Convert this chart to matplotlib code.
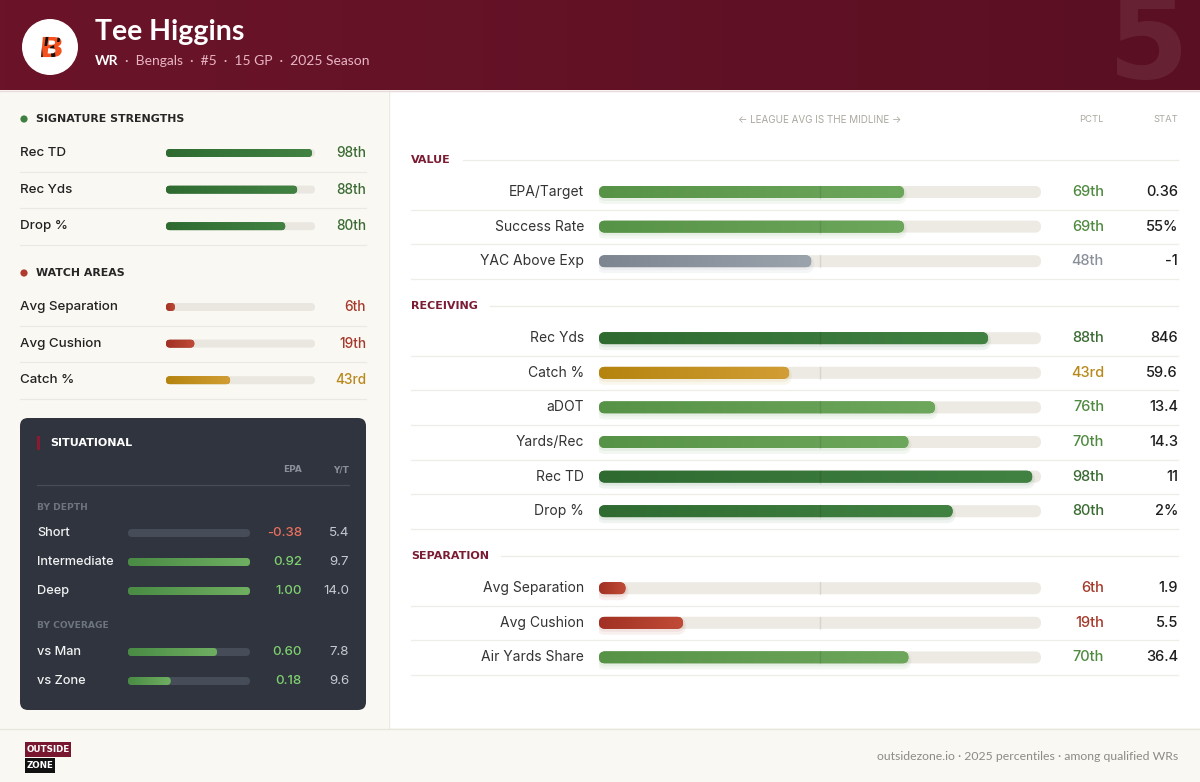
import numpy as np
import matplotlib
matplotlib.use("Agg")
import matplotlib.pyplot as plt
from matplotlib.patches import FancyBboxPatch, Circle, Rectangle, PathPatch, Polygon
from matplotlib.colors import LinearSegmentedColormap
from matplotlib.textpath import TextPath
from matplotlib.font_manager import FontProperties
from matplotlib.transforms import Affine2D

# ---------------- data ----------------
player_name = "Tee Higgins"
player_pos = "WR"
player_meta = ["Bengals", "#5", "15 GP", "2025 Season"]
jersey = "5"

strength_labels = ["Rec TD", "Rec Yds", "Drop %"]
strength_pctl = [98, 88, 80]
watch_labels = ["Avg Separation", "Avg Cushion", "Catch %"]
watch_pctl = [6, 19, 43]

depth_labels = ["Short", "Intermediate", "Deep"]
depth_epa = [-0.38, 0.92, 1.00]
depth_yt = [5.4, 9.7, 14.0]
depth_fill = [0.0, 1.0, 1.0]
coverage_labels = ["vs Man", "vs Zone"]
coverage_epa = [0.60, 0.18]
coverage_yt = [7.8, 9.6]
coverage_fill = [0.73, 0.35]

value_labels = ["EPA/Target", "Success Rate", "YAC Above Exp"]
value_pctl = [69, 69, 48]
value_stat = ["0.36", "55%", "-1"]
receiving_labels = ["Rec Yds", "Catch %", "aDOT", "Yards/Rec", "Rec TD", "Drop %"]
receiving_pctl = [88, 43, 76, 70, 98, 80]
receiving_stat = ["846", "59.6", "13.4", "14.3", "11", "2%"]
separation_labels = ["Avg Separation", "Avg Cushion", "Air Yards Share"]
separation_pctl = [6, 19, 70]
separation_stat = ["1.9", "5.5", "36.4"]

footer_text = "outsidezone.io \u00b7 2025 percentiles \u00b7 among qualified WRs"

# ---------------- style ----------------
W, H, DPI = 1200, 782, 100
LBL = ["Inter", "DejaVu Sans"]
HDR = ["DejaVu Sans"]
TITLE = ["Lato", "DejaVu Sans"]

BAR_GRAD = {
    "elite": ("#2F6B31", "#418242"),
    "good": ("#579346", "#6DA75C"),
    "avg": ("#7C8590", "#9BA3AD"),
    "below": ("#B4840E", "#D29E35"),
    "poor": ("#A13123", "#C04B37"),
}
TXT = {"elite": "#3A6B32", "good": "#4F8A40", "avg": "#8A9099",
       "below": "#B8891C", "poor": "#A5392B"}


def tier(p):
    if p >= 80:
        return "elite"
    if p >= 60:
        return "good"
    if p >= 45:
        return "avg"
    if p >= 25:
        return "below"
    return "poor"


def ordinal(n):
    if 10 <= n % 100 <= 20:
        suf = "th"
    else:
        suf = {1: "st", 2: "nd", 3: "rd"}.get(n % 10, "th")
    return f"{n}{suf}"


fig = plt.figure(figsize=(W / DPI, H / DPI), dpi=DPI, facecolor="#FAF8F3")
bg = fig.add_axes([0, 0, 1, 1])
bg.set_xlim(0, W)
bg.set_ylim(H, 0)
bg.axis("off")


def region_axes(x0, y0, w, h, xmax=100.0):
    ax = fig.add_axes([x0 / W, 1 - (y0 + h) / H, w / W, h / H])
    ax.set_xlim(0, xmax)
    ax.set_ylim(y0 + h, y0)
    ax.axis("off")
    ax.set_zorder(5)
    return ax


def rbar(ax, x0, x1, yc, h, ppx, c0, c1=None, z=3, alpha=1.0, grow=0.0):
    w = x1 - x0
    if w <= 0:
        return None
    hh = h + 2 * grow
    gx = grow / ppx
    r = hh / 2 / ppx
    w = max(w + 2 * gx, 2 * r)
    patch = FancyBboxPatch((x0 - gx, yc - hh / 2), w, hh,
                           boxstyle=f"round,pad=0,rounding_size={r}",
                           mutation_aspect=ppx, fc=c0, ec="none",
                           zorder=z, alpha=alpha)
    ax.add_patch(patch)
    if c1 is not None:
        cmap = LinearSegmentedColormap.from_list("g", [c0, c1])
        im = ax.imshow(np.linspace(0, 1, 128).reshape(1, -1), cmap=cmap,
                       extent=[x0 - gx, x0 - gx + w, yc + hh / 2, yc - hh / 2],
                       aspect="auto", zorder=z + 0.1, interpolation="bilinear")
        im.set_clip_path(patch)
    return patch


# ---------------- backgrounds ----------------
hdr_cmap = LinearSegmentedColormap.from_list("hdr", ["#6B1429", "#5A0F22"])
bg.imshow(np.linspace(0, 1, 256).reshape(1, -1), cmap=hdr_cmap,
          extent=[0, W, 90, 0], aspect="auto", zorder=0)
bg.text(1149, 45, jersey, fontsize=84, color="white", alpha=0.08,
        ha="center", va="center", family=HDR, weight="bold", zorder=1)
bg.plot([0, W], [90.5, 90.5], color="#EADADD", lw=1, zorder=2)
bg.add_patch(Rectangle((0, 91), 388, 637, fc="#FAF8F3", ec="none", zorder=0))
bg.add_patch(Rectangle((388, 91), 812, 637, fc="#FFFFFF", ec="none", zorder=0))
bg.plot([388.5, 388.5], [91, 728], color="#ECE9E1", lw=1, zorder=1)
bg.add_patch(Rectangle((0, 728), W, 54, fc="#F9F8F3", ec="none", zorder=0))
bg.plot([0, W], [728.5, 728.5], color="#E9E6DE", lw=1, zorder=1)
bg.set_xlim(0, W)
bg.set_ylim(H, 0)

# ---------------- header ----------------
bg.add_patch(Circle((50, 47), 28, fc="white", ec="none", zorder=3))
fp = FontProperties(family="DejaVu Sans", weight="bold")
tp = TextPath((0, 0), "B", size=29, prop=fp)
ext = tp.get_extents()
tr = (Affine2D().translate(-ext.x0 - ext.width / 2, -ext.y0 - ext.height / 2)
      .skew_deg(4, 0).scale(1.15, -0.95).translate(52, 47) + bg.transData)
bpatch = PathPatch(tp, fc="#F4511E", ec="none", transform=tr, zorder=4)
bg.add_patch(bpatch)
for pts in ([(33, 34), (41, 34), (43, 61), (35, 61)],
            [(46, 34), (49, 34), (47, 46), (44.5, 46)],
            [(50, 47), (54, 45), (56, 61), (52, 61)],
            [(58, 34), (61, 34), (59.5, 42), (57, 42)]):
    st = Polygon(pts, closed=True, fc="#111111", ec="none", zorder=5)
    bg.add_patch(st)
    st.set_clip_path(bpatch)

bg.text(95, 32, player_name, fontsize=20.5, weight="bold", color="white",
        va="center", ha="left", family=TITLE, zorder=3)
t = bg.text(95, 61, player_pos, fontsize=10, weight="bold", color="white",
            va="center", ha="left", family=TITLE, zorder=3)
bg.annotate("  \u00b7  ".join([""] + player_meta), xy=(1, 0.5), xycoords=t,
            xytext=(0, 0), textcoords="offset points", va="center", ha="left",
            fontsize=10, color="#E8B5C2", family=TITLE, zorder=3)

# ---------------- left panel ----------------
LX0, LX1 = 20, 366
left_ax = region_axes(166, 100, 149, 300)
lppx = 149 / 100.0


def left_section(title, dot, y_head, labels, pctls):
    bg.add_patch(Circle((24, y_head), 3.6, fc=dot, ec="none", zorder=3))
    bg.text(36, y_head, title, fontsize=7.9, weight="bold", color="#262626",
            va="center", ha="left", family=HDR, zorder=3)
    for i, (lab, p) in enumerate(zip(labels, pctls)):
        y = y_head + 34 + i * 36.6
        bg.text(LX0, y, lab, fontsize=9.6, color="#222222", va="center",
                ha="left", family=LBL, weight="medium", zorder=3)
        tr_ = tier(p)
        rbar(left_ax, 0, 100, y, 8, lppx, "#E9E7E0", z=2)
        c0, c1 = BAR_GRAD[tr_]
        rbar(left_ax, 0, p, y, 8, lppx, c0, c1, z=3)
        bg.text(LX1, y, ordinal(p), fontsize=9.8, color=TXT[tr_], va="center",
                ha="right", family=LBL, weight="medium", zorder=3)
        bg.plot([LX0, LX1], [y + 18.5, y + 18.5], color="#ECE9E2", lw=0.9, zorder=2)


left_section("SIGNATURE STRENGTHS", "#3F7F3F", 119, strength_labels, strength_pctl)
left_section("WATCH AREAS", "#B03A2E", 273, watch_labels, watch_pctl)
left_ax.set_xlim(0, 100)
left_ax.set_ylim(400, 100)

# ---------------- situational panel ----------------
bg.add_patch(FancyBboxPatch((20, 418), 346, 292,
                            boxstyle="round,pad=0,rounding_size=8",
                            fc="#2F343E", ec="none", zorder=2))
bg.add_patch(Rectangle((37, 436), 3, 14, fc="#8B1A30", ec="none", zorder=3))
bg.text(50, 443, "SITUATIONAL", fontsize=8.0, weight="bold", color="white",
        va="center", ha="left", family=HDR, zorder=3)
bg.text(302, 470, "EPA", fontsize=6.4, weight="bold", color="#8A909B",
        va="center", ha="right", family=HDR, zorder=3)
bg.text(349, 470, "Y/T", fontsize=6.4, weight="bold", color="#8A909B",
        va="center", ha="right", family=HDR, zorder=3)
bg.plot([37, 349], [485, 485], color="#474D58", lw=0.9, zorder=3)

sit_ax = region_axes(128, 515, 122, 185, xmax=1.0)
sppx = 122 / 1.0


def sit_group(title, y_head, labels, epas, yts, fills):
    bg.text(37, y_head, title, fontsize=6.6, weight="bold", color="#6E7480",
            va="center", ha="left", family=HDR, zorder=3)
    for i, (lab, e, yt, f) in enumerate(zip(labels, epas, yts, fills)):
        y = y_head + 26 + i * 29
        bg.text(37, y, lab, fontsize=9.2, color="#F2F2F2", va="center",
                ha="left", family=LBL, weight="medium", zorder=3)
        rbar(sit_ax, 0, 1.0, y, 8, sppx, "#464C58", z=2)
        rbar(sit_ax, 0, f, y, 8, sppx, "#4A8B45", "#6FAF62", z=3)
        bg.text(302, y, f"{e:.2f}", fontsize=9.6,
                color="#E8705E" if e < 0 else "#7FD06E", va="center",
                ha="right", family=LBL, weight="medium", zorder=3)
        bg.text(349, y, f"{yt:.1f}", fontsize=9.6, color="#C5C9D0",
                va="center", ha="right", family=LBL, zorder=3)


sit_group("BY DEPTH", 507, depth_labels, depth_epa, depth_yt, depth_fill)
sit_group("BY COVERAGE", 626, coverage_labels, coverage_epa, coverage_yt, coverage_fill)
sit_ax.set_xlim(0, 1.0)
sit_ax.set_ylim(700, 515)

# ---------------- right panel ----------------
RX0, RX1 = 411, 1178
bg.text(820, 120, "\u2190 LEAGUE AVG IS THE MIDLINE \u2192", fontsize=7.1,
        color="#ABA89F", va="center", ha="center", family=LBL, zorder=3)
bg.text(1104, 120, "PCTL", fontsize=6.8, color="#ABA89F", va="center",
        ha="right", family=LBL, zorder=3)
bg.text(RX1, 120, "STAT", fontsize=6.8, color="#ABA89F", va="center",
        ha="right", family=LBL, zorder=3)

right_ax = region_axes(599, 170, 442, 510)
rppx = 442 / 100.0
renderer = fig.canvas.get_renderer()

sections = [("VALUE", value_labels, value_pctl, value_stat),
            ("RECEIVING", receiving_labels, receiving_pctl, receiving_stat),
            ("SEPARATION", separation_labels, separation_pctl, separation_stat)]
y_head = 160.0
for title, labels, pctls, stats in sections:
    th = bg.text(RX0, y_head, title, fontsize=8.0, weight="bold", color="#7A1C33",
                 va="center", ha="left", family=HDR, zorder=3)
    bb = th.get_window_extent(renderer=renderer)
    xe = bg.transData.inverted().transform((bb.x1, bb.y0))[0]
    bg.plot([xe + 12, RX1], [y_head, y_head], color="#EEECE6", lw=0.9, zorder=2)
    y = y_head + 32
    for lab, p, s in zip(labels, pctls, stats):
        tr_ = tier(p)
        bg.text(584, y, lab, fontsize=10, color="#333333", va="center",
                ha="right", family=LBL, zorder=3)
        rbar(right_ax, 0, 100, y, 12, rppx, "#ECEAE3", z=2)
        c0, c1 = BAR_GRAD[tr_]
        rbar(right_ax, 0, p, y + 3, 12, rppx, c0, z=2.5, alpha=0.07, grow=3)
        rbar(right_ax, 0, p, y + 2, 12, rppx, c0, z=2.6, alpha=0.08, grow=1)
        rbar(right_ax, 0, p, y, 12, rppx, c0, c1, z=3)
        right_ax.plot([50, 50], [y - 6, y + 6], color="black", alpha=0.09,
                      lw=1, zorder=4)
        bg.text(1104, y, ordinal(p), fontsize=10.5, color=TXT[tr_],
                va="center", ha="right", family=LBL, weight="medium", zorder=3)
        bg.text(RX1, y, s, fontsize=10.5, color="#1E1E1E", va="center",
                ha="right", family=LBL, weight="medium", zorder=3)
        bg.plot([RX0, RX1], [y + 17.5, y + 17.5], color="#EFEDE7", lw=0.9, zorder=2)
        y += 34.6
    y_head = y - 34.6 + 45
right_ax.set_xlim(0, 100)
right_ax.set_ylim(680, 170)

# ---------------- footer ----------------
bg.add_patch(Rectangle((25, 742), 46, 15, fc="#7A1730", ec="none", zorder=3))
bg.text(48, 749.5, "OUTSIDE", fontsize=6.3, weight="bold", color="white",
        va="center", ha="center", family=HDR, zorder=4)
bg.add_patch(Rectangle((25, 758), 30, 15, fc="#111111", ec="none", zorder=3))
bg.text(40, 765.5, "ZONE", fontsize=6.3, weight="bold", color="white",
        va="center", ha="center", family=HDR, zorder=4)
bg.text(RX1, 757, footer_text, fontsize=8.8, color="#8C8B86", va="center",
        ha="right", family=TITLE, zorder=3)

bg.set_xlim(0, W)
bg.set_ylim(H, 0)
fig.savefig("out.png", dpi=DPI, facecolor=fig.get_facecolor())
